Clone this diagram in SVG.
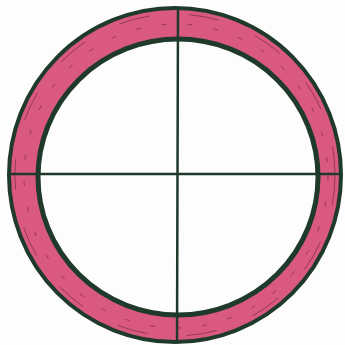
<svg xmlns="http://www.w3.org/2000/svg" width="345" height="345" viewBox="0 0 345 345">
<style>
.ink{fill:none;stroke:#1f3a2b;stroke-linecap:round}
.hatch{fill:none;stroke:#7a2a40;stroke-width:1;stroke-linecap:round;opacity:0.7}
</style>
<rect width="345" height="345" fill="#fdfdfd"/>
<g id="ring">
<path d="M175,8 A166,167 0 1,1 174.9,8 Z M178,39 A140,138 0 1,0 178.1,39 Z" fill="#d95a7e" fill-rule="evenodd"/>
<ellipse cx="175" cy="175" rx="166" ry="167" class="ink" stroke-width="4"/>
<ellipse cx="178" cy="177" rx="140" ry="138" class="ink" stroke-width="5"/>
<ellipse cx="175" cy="175" rx="160" ry="161" class="hatch" stroke-dasharray="30 40"/>
<ellipse cx="176" cy="176" rx="152" ry="152" class="hatch" stroke-dasharray="4 22"/>
</g>
<g id="connectors">
<path d="M178,8 L177,341" class="ink" stroke-width="2.5"/>
<path d="M10,174 L341,174" class="ink" stroke-width="2.5"/>
</g>
</svg>
